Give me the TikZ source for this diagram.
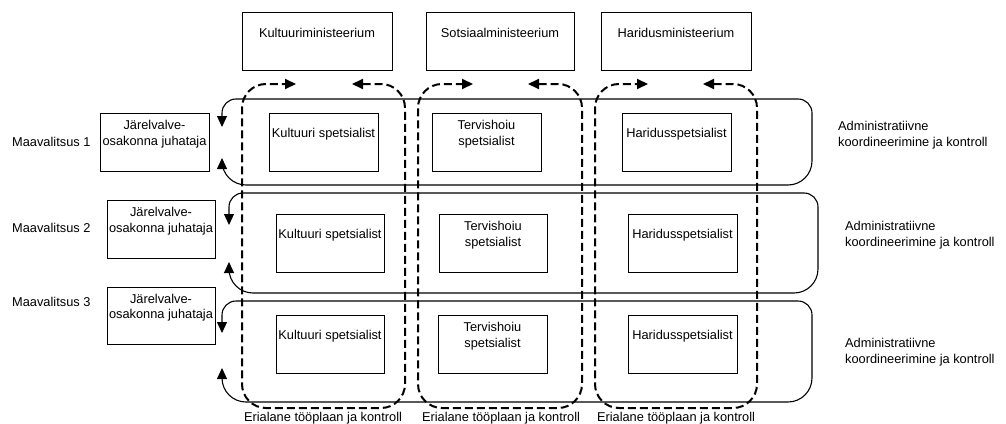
\documentclass[tikz,border=0pt]{standalone}
\usepackage{fontspec}
\setmainfont{Liberation Sans}
\usetikzlibrary{arrows.meta}
\newcommand\mybox[6]{%
  \node[box, minimum width={(#4-#2)*1pt}, minimum height={(#5-#3)*1pt}] (#1) at ({(#2+#4)/2},{(#3+#5)/2}) {};
  \node[txt] (#1t) at ([yshift=8pt]#1.center) {#6};}
\begin{document}
\begin{tikzpicture}[x=1pt,y=-1pt,
  box/.style={draw, line width=0.9pt, rectangle, inner sep=0pt},
  txt/.style={font=\fontsize{12.8}{15.5}\selectfont, align=center, inner sep=0pt},
  rowpath/.style={draw, line width=1.1pt, {Triangle[length=11pt,width=10pt]}-{Triangle[length=11pt,width=10pt]}},
  colpath/.style={draw, line width=2pt, dash pattern=on 8pt off 4pt, rounded corners=24pt,
    {Triangle[length=11pt,width=10pt]}-{Triangle[length=11pt,width=10pt]}}
]
\useasboundingbox (0,0) rectangle (1006,423);

% ministries
\mybox{km}{242}{12}{392}{70}{Kultuuriministeerium}
\mybox{sm}{426}{12}{574}{70}{Sotsiaalministeerium}
\mybox{hm}{601}{12}{751}{70}{Haridusministeerium}

% dashed column loops
\coordinate (c1a) at (352,84); \coordinate (c1b) at (296,84);
\coordinate (c2a) at (528,84); \coordinate (c2b) at (473,84);
\coordinate (c3a) at (703,84); \coordinate (c3b) at (648,84);
\draw[colpath] (c1a) -- (405,84) -- (405,408) -- (242,408) -- (242,84) -- (c1b);
\draw[colpath] (c2a) -- (582,84) -- (582,408) -- (418,408) -- (418,84) -- (c2b);
\draw[colpath] (c3a) -- (757,84) -- (757,408) -- (595,408) -- (595,84) -- (c3b);

% solid row loops
\coordinate (r1a) at (222,127); \coordinate (r1b) at (222,158);
\coordinate (r2a) at (229,225); \coordinate (r2b) at (229,262);
\coordinate (r3a) at (222,333); \coordinate (r3b) at (222,368);
\draw[rowpath] (r1a) [rounded corners=14pt] -- (222,99) -- (812,99) [rounded corners=24pt] -- (812,185) -- (222,185) [rounded corners=14pt] -- (r1b);
\draw[rowpath] (r2a) [rounded corners=14pt] -- (229,193) -- (818,193) [rounded corners=24pt] -- (818,293) -- (229,293) [rounded corners=14pt] -- (r2b);
\draw[rowpath] (r3a) [rounded corners=14pt] -- (222,301) -- (812,301) [rounded corners=24pt] -- (812,402) -- (222,402) [rounded corners=14pt] -- (r3b);

% left boxes
\mybox{j1}{100}{113}{209}{171}{Järelvalve-\\osakonna juhataja}
\mybox{j2}{107}{200}{215}{258}{Järelvalve-\\osakonna juhataja}
\mybox{j3}{107}{287}{215}{344}{Järelvalve-\\osakonna juhataja}

% specialists row 1
\mybox{k1}{269}{113}{378}{171}{Kultuuri spetsialist}
\mybox{t1}{432}{113}{541}{171}{Tervishoiu\\spetsialist}
\mybox{h1}{622}{113}{731}{171}{Haridusspetsialist}
% row 2
\mybox{k2}{276}{214}{384}{272}{Kultuuri spetsialist}
\mybox{t2}{439}{214}{547}{272}{Tervishoiu\\spetsialist}
\mybox{h2}{628}{214}{737}{272}{Haridusspetsialist}
% row 3
\mybox{k3}{276}{315}{384}{373}{Kultuuri spetsialist}
\mybox{t3}{438}{315}{547}{373}{Tervishoiu\\spetsialist}
\mybox{h3}{628}{315}{737}{373}{Haridusspetsialist}

% left labels
\node[txt, anchor=west] (m1) at (12,142) {Maavalitsus 1};
\node[txt, anchor=west] (m2) at (12,228) {Maavalitsus 2};
\node[txt, anchor=west] (m3) at (12,302) {Maavalitsus 3};

% right labels
\node[txt, anchor=west, align=left] (a1) at (838,135) {Administratiivne\\koordineerimine ja kontroll};
\node[txt, anchor=west, align=left] (a2) at (845,235) {Administratiivne\\koordineerimine ja kontroll};
\node[txt, anchor=west, align=left] (a3) at (845,352) {Administratiivne\\koordineerimine ja kontroll};

% bottom labels
\node[txt] (e1) at (323,418) {Erialane tööplaan ja kontroll};
\node[txt] (e2) at (501,418) {Erialane tööplaan ja kontroll};
\node[txt] (e3) at (676,418) {Erialane tööplaan ja kontroll};
\end{tikzpicture}
\end{document}
